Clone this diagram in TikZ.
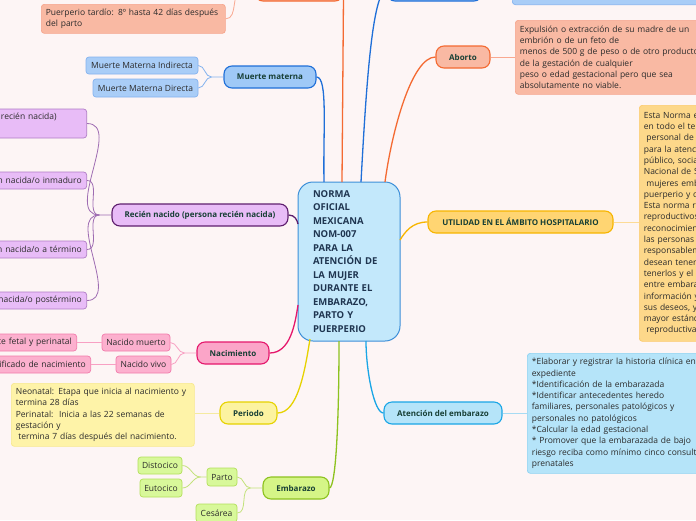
\documentclass[tikz,border=0pt]{standalone}
\usepackage{fontspec}
\setmainfont{Open Sans}
\definecolor{bg}{HTML}{FDF5F5}
\definecolor{cenF}{HTML}{C3E8FB}\definecolor{cenB}{HTML}{3D8FD8}\definecolor{cenT}{HTML}{1F3550}
\definecolor{lab}{HTML}{173F35}\definecolor{txt}{HTML}{2B2B2B}
\definecolor{ornF}{HTML}{F9B9A3}\definecolor{ornB}{HTML}{F46A32}\definecolor{ornSB}{HTML}{F6A58D}\definecolor{ornSC}{HTML}{F9A890}
\definecolor{bluF}{HTML}{9FC9F7}\definecolor{bluB}{HTML}{1F6FD8}
\definecolor{skyF}{HTML}{A9CDF7}\definecolor{skyB}{HTML}{84B3EF}
\definecolor{purF}{HTML}{E8BCF7}\definecolor{purB}{HTML}{5E1E6E}\definecolor{purSB}{HTML}{B07CC6}\definecolor{purSC}{HTML}{9E6CB2}
\definecolor{pnkF}{HTML}{FBA5C8}\definecolor{pnkB}{HTML}{E5176C}\definecolor{pnkSF}{HTML}{FCB0CE}\definecolor{pnkSB}{HTML}{F27BAB}\definecolor{pnkSC}{HTML}{F8A0C3}
\definecolor{yelF}{HTML}{FCF3A0}\definecolor{yelB}{HTML}{E6D200}\definecolor{yelSF}{HTML}{FEF3A8}\definecolor{yelSB}{HTML}{F7E98E}\definecolor{yelSC}{HTML}{F5EAA0}
\definecolor{grnF}{HTML}{D5F587}\definecolor{grnB}{HTML}{8DC21F}\definecolor{grnSF}{HTML}{D8F89A}\definecolor{grnSB}{HTML}{B3DF5A}\definecolor{grnSC}{HTML}{C2E27A}
\definecolor{utF}{HTML}{FFD572}\definecolor{utB}{HTML}{F7B500}\definecolor{utSF}{HTML}{FDD88A}\definecolor{utSB}{HTML}{FCCB6E}\definecolor{utSC}{HTML}{FDDB96}
\definecolor{cyF}{HTML}{B5E4F9}\definecolor{cyB}{HTML}{1AA6E6}\definecolor{cySB}{HTML}{8DD2F2}\definecolor{cySC}{HTML}{A7DBF3}
\begin{document}
\begin{tikzpicture}[x=1pt,y=-1pt,
  br/.style={draw, rounded corners=8pt, line width=1.1pt, inner sep=0pt, minimum height=22pt, font=\bfseries\fontsize{8}{10}\selectfont, text=lab},
  sb/.style={draw, rounded corners=3pt, line width=0.7pt, inner sep=0pt, font=\fontsize{8.5}{11.3}\selectfont, text=txt},
  tb/.style={sb, anchor=north west, align=left, inner xsep=4.5pt, inner ysep=4pt},
  cutbox/.style={sb, anchor=east, align=right},
  mc/.style={line width=1.3pt},
  sc/.style={line width=0.8pt}]
\path[use as bounding box, fill=bg] (0,0) rectangle (696,520);
% central
\node[draw=cenB, fill=cenF, rounded corners=15pt, line width=1pt, minimum width=102pt, minimum height=159pt, inner sep=0pt, text width=72pt, align=left, text=cenT, font=\bfseries\fontsize{9.5}{13.5}\selectfont] (c) at (349,261.5)
 {NORMA\\OFICIAL\\MEXICANA\\NOM-007\\PARA LA\\ATENCIÓN DE\\LA MUJER\\DURANTE EL\\EMBARAZO,\\PARTO Y\\PUERPERIO};
\coordinate (cO) at (342,182); \coordinate (cB) at (361,182); \coordinate (cM) at (324,182);
\coordinate (cA) at (385,182); \coordinate (cR) at (298,224); \coordinate (cN) at (298,305);
\coordinate (cP) at (310,339); \coordinate (cE) at (339,341); \coordinate (cT) at (366,341);
\coordinate (cU) at (400,240);
% top cut nodes
\node[br, draw=ornB, fill=ornF, minimum width=88pt] (to) at (299,-10) {};
\node[br, draw=bluB, fill=bluF, minimum width=95pt] (tbl) at (434.5,-10) {};
\node[sb, draw=skyB, fill=skyF, anchor=south west, minimum width=200pt, minimum height=40pt] (sky) at (512,5) {};
\node[tb, draw=ornSB, fill=ornF, text width=175pt, minimum height=29pt] (pt) at (41,4) {Puerperio tardío: 8º hasta 42 días después\\del parto};
\coordinate (jto) at (243,-10);
% muerte materna
\node[br, draw=bluB, fill=bluF, minimum width=92pt] (mm) at (270,77) {Muerte materna};
\node[sb, draw=skyB, fill=skyF, minimum width=112pt, minimum height=17pt] (mmi) at (142,65.5) {Muerte Materna Indirecta};
\node[sb, draw=skyB, fill=skyF, minimum width=105pt, minimum height=18pt] (mmd) at (145.5,88) {Muerte Materna Directa};
% recien nacido
\node[br, draw=purB, fill=purF, minimum width=176pt] (rn) at (200,215) {Recién nacido (persona recién nacida)};
\node[cutbox, draw=purSB, fill=purF, minimum height=29pt, text width=200pt] (rn1) at (87,123.5) {Recién nacido (persona recién nacida)\kern30pt\\\strut};
\node[cutbox, draw=purSB, fill=purF, minimum height=17pt, text width=182pt] (rn2) at (87,180.5) {Recién nacida/o inmaduro\kern5pt};
\node[cutbox, draw=purSB, fill=purF, minimum height=17pt, text width=182pt] (rn3) at (87,249.5) {Recién nacida/o a término\kern5pt};
\node[cutbox, draw=purSB, fill=purF, minimum height=17pt, text width=182pt] (rn4) at (87,300.5) {Recién nacida/o postérmino\kern5pt};
% nacimiento
\node[br, draw=pnkB, fill=pnkF, minimum width=72pt] (nac) at (233,353) {Nacimiento};
\node[sb, draw=pnkSB, fill=pnkSF, minimum width=68pt, minimum height=17pt] (nm) at (136,342.5) {Nacido muerto};
\node[sb, draw=pnkSB, fill=pnkSF, minimum width=55pt, minimum height=17pt] (nv) at (143.5,364.5) {Nacido vivo};
\node[cutbox, draw=pnkSB, fill=pnkSF, minimum height=17pt, text width=160pt] (mfp) at (77,342.5) {Muerte fetal y perinatal\kern5pt};
\node[cutbox, draw=pnkSB, fill=pnkSF, minimum height=17pt, text width=170pt] (cdn) at (91,364.5) {Certificado de nacimiento\kern5pt};
% periodo
\node[br, draw=yelB, fill=yelF, minimum width=57pt] (per) at (248.5,413) {Periodo};
\node[tb, draw=yelSB, fill=yelSF, text width=174pt, minimum height=63pt] (pert) at (11,383)
 {Neonatal: Etapa que inicia al nacimiento y\\termina 28 días\\Perinatal:\ \ Inicia a las 22 semanas de\\gestación y\\\hspace*{2.5pt}termina 7 días después del nacimiento.};
% embarazo
\node[br, draw=grnB, fill=grnF, minimum width=66pt] (emb) at (296,488) {Embarazo};
\node[sb, draw=grnSB, fill=grnSF, minimum width=30pt, minimum height=18pt] (parto) at (222,477) {Parto};
\node[sb, draw=grnSB, fill=grnSF, minimum width=44pt, minimum height=17pt] (dis) at (160,465.5) {Distocico};
\node[sb, draw=grnSB, fill=grnSF, minimum width=42pt, minimum height=18pt] (eut) at (161,488) {Eutocico};
\node[sb, draw=grnSB, fill=grnSF, minimum width=41pt, minimum height=18pt] (ces) at (216.5,513) {Cesárea};
% aborto
\node[br, draw=ornB, fill=ornF, minimum width=54pt] (ab) at (463,57) {Aborto};
\node[tb, draw=ornSB, fill=ornF, text width=200pt, minimum height=74pt] (abt) at (515,20)
 {Expulsión o extracción de su madre de un\\embrión o de un feto de\\menos de 500 g de peso o de otro producto\\de la gestación de cualquier\\peso o edad gestacional pero que sea\\absolutamente no viable.};
% utilidad
\node[br, draw=utB, fill=utF, minimum width=185pt] (ut) at (520.5,222) {UTILIDAD EN EL ÁMBITO HOSPITALARIO};
\node[tb, draw=utSB, fill=utSF, text width=220pt, minimum height=236pt] (utt) at (639,105)
 {Esta Norma es de observancia obligatoria\\en todo el territorio nacional, para el\\\hspace*{2.5pt}personal de salud de los establecimientos\\para la atención médica de los sectores\\público, social y privado del Sistema\\Nacional de Salud, que brindan atención a\\\hspace*{2.5pt}mujeres embarazadas, durante el parto,\\puerperio y de las personas recién nacidas.\\Esta norma respeta los derechos\\reproductivos que se basan en el\\reconocimiento del derecho básico de todas\\las personas a decidir libre y\\responsablemente el número de hijos que\\desean tener, el momento oportuno para\\tenerlos y el tiempo\\entre embarazos, así como tener la\\información y los medios para concretar\\sus deseos, y el derecho de alcanzar el\\mayor estándar de salud sexual y\\\hspace*{2.5pt}reproductiva.};
% atencion
\node[br, draw=cyB, fill=cyF, minimum width=118pt] (at) at (443,413) {Atención del embarazo};
\node[tb, draw=cySB, fill=cyF, text width=200pt, minimum height=120pt] (att) at (527,353)
 {*Elaborar y registrar la historia clínica en un\\{}expediente\\{}*Identificación de la embarazada\\{}*Identificar antecedentes heredo\\{}familiares, personales patológicos y\\{}personales no patológicos\\{}*Calcular la edad gestacional\\{}* Promover que la embarazada de bajo\\{}riesgo reciba como mínimo cinco consultas\\{}prenatales};
% main connectors
\draw[mc, ornB] (cO) -- (to.east);
\draw[mc, bluB] (cB) .. controls (366,90) and (372,-8) .. (tbl.west);
\draw[mc, bluB] (mm.east) .. controls (328,77) and (323,130) .. (cM);
\draw[mc, purB] (rn.east) .. controls (295,215) and (297,220) .. (cR);
\draw[mc, pnkB] (nac.east) .. controls (290,353) and (295,325) .. (cN);
\draw[mc, yelB] (per.east) .. controls (298,413) and (305,370) .. (cP);
\draw[mc, grnB] (emb.east) .. controls (336,486) and (339,420) .. (cE);
\draw[mc, cyB] (at.west) .. controls (374,413) and (366,370) .. (cT);
\draw[mc, utB] (ut.west) .. controls (412,222) and (405,232) .. (cU);
\draw[mc, ornB] (ab.west) .. controls (412,57) and (392,130) .. (cA);
% sub connectors
\draw[sc, ornSC] (to.west) -- (jto) to[out=180,in=0] (pt.east);
\draw[sc, skyB] (mm.west) -- ++(-12,0) coordinate (jmm) to[out=180,in=0] (mmi.east);
\draw[sc, skyB] (jmm) to[out=180,in=0] (mmd.east);
\draw[sc, purSC] (rn.west) -- ++(-12,0) coordinate (jrn) to[out=180,in=0] (rn1.east);
\draw[sc, purSC] (jrn) to[out=180,in=0] (rn2.east);
\draw[sc, purSC] (jrn) to[out=180,in=0] (rn3.east);
\draw[sc, purSC] (jrn) to[out=180,in=0] (rn4.east);
\draw[sc, pnkSC] (nac.west) -- ++(-12,0) coordinate (jn) to[out=180,in=0] (nm.east);
\draw[sc, pnkSC] (jn) to[out=180,in=0] (nv.east);
\draw[sc, pnkSC] (nm.west) -- (mfp.east);
\draw[sc, pnkSC] (nv.west) -- (cdn.east);
\draw[sc, yelSC] (per.west) -- (per.west -| pert.east);
\draw[sc, grnSC] (emb.west) -- ++(-12,0) coordinate (je) to[out=180,in=0] (parto.east);
\draw[sc, grnSC] (je) to[out=180,in=0] (ces.east);
\draw[sc, grnSC] (parto.west) -- ++(-6,0) coordinate (jp) to[out=180,in=0] (dis.east);
\draw[sc, grnSC] (jp) to[out=180,in=0] (eut.east);
\draw[sc, ornSC] (ab.east) -- (ab.east -| abt.west);
\draw[sc, utSC] (ut.east) -- (ut.east -| utt.west);
\draw[sc, cySC] (at.east) -- (at.east -| att.west);
\end{tikzpicture}
\end{document}
